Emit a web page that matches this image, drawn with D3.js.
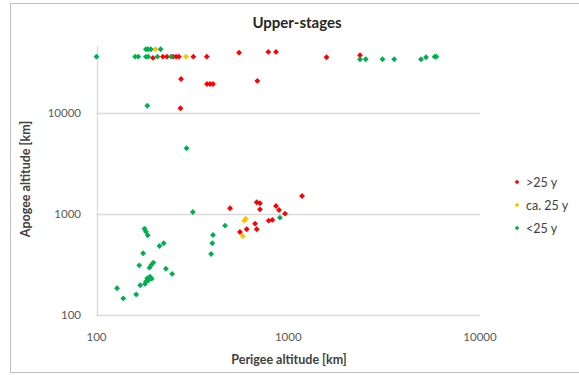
<!DOCTYPE html>
<html>
<head>
<meta charset="utf-8">
<script src="https://cdn.jsdelivr.net/npm/d3@7"></script>
<style>
  body { margin: 0; background: #fff; }
  svg text { font-family: Lato, "Open Sans", sans-serif; }
</style>
</head>
<body>
<svg id="chart" width="579" height="375"></svg>
<script>
// perigee / apogee altitudes in km
var redPerigee = [197, 222, 233, 251, 260, 269, 320, 376, 554, 787, 863, 1583, 2367,
    276, 377, 391, 405, 690, 274,
    497, 685, 712, 712, 863, 895, 962, 1180, 791, 826, 671, 685, 607, 560];
var redApogee = [35060, 36070, 36070, 36070, 36070, 36070, 36070, 36070, 39540, 40180, 40180, 35600, 37240,
    21700, 19370, 19370, 19370, 20750, 11130,
    1138, 1306, 1276, 1112, 1200, 1096, 1007, 1507, 859, 873, 802, 706, 706, 663];

var orangePerigee = [203, 293, 600, 590, 579];
var orangeApogee = [42720, 36070, 898, 859, 606];

var greenPerigee = [100, 159, 165, 181, 186, 208, 245, 181, 186, 192, 216,
    2367, 2535, 3101, 3569, 4924, 5229, 5800, 5920,
    184, 295,
    318, 905, 468, 405, 402, 396, 178, 181, 185, 213, 224, 175, 167, 198, 193, 189,
    230, 248, 184, 190, 194, 181, 186, 179, 169, 128, 138, 161];
var greenApogee = [36070, 36070, 36070, 36070, 36070, 36070, 36070, 42720, 42720, 42720, 42720,
    34030, 34030, 34030, 34030, 34030, 35600, 36070, 36070,
    11800, 4470,
    1047, 919, 766, 620, 513, 402, 715, 668, 615, 482, 513, 408, 310, 330, 313, 294,
    287, 255, 231, 239, 229, 214, 219, 203, 197, 184, 146, 160];

var seriesNames = [">25 y", "ca. 25 y", "<25 y"];
var seriesColors = ["#ff0000", "#ffc000", "#00b050"];
var xTicks = [100, 1000, 10000];
var yTicks = [100, 1000, 10000];

var svg = d3.select("#chart");

var plotLeft = 96.5, plotRight = 480, plotTop = 46, plotBottom = 315;

var x = d3.scaleLog().domain([100, 10000]).range([plotLeft, plotRight]);
var y = d3.scaleLog().domain([100, 46000]).range([plotBottom, plotTop]);

// chart border
svg.append("rect")
    .attr("x", 10.5).attr("y", 3.5)
    .attr("width", 600).attr("height", 369)
    .attr("fill", "none")
    .attr("stroke", "#bfbfbf");

// horizontal gridlines
svg.selectAll(".grid")
    .data(yTicks)
    .enter().append("line")
    .attr("class", "grid")
    .attr("x1", plotLeft).attr("x2", plotRight)
    .attr("y1", d => Math.round(y(d)) + 0.5)
    .attr("y2", d => Math.round(y(d)) + 0.5)
    .attr("stroke", "#d9d9d9")
    .attr("stroke-width", 1.3);

// vertical axis line
svg.append("line")
    .attr("x1", Math.round(plotLeft) + 0.5).attr("x2", Math.round(plotLeft) + 0.5)
    .attr("y1", plotTop).attr("y2", plotBottom)
    .attr("stroke", "#d9d9d9")
    .attr("stroke-width", 1.3);

// tick labels
svg.selectAll(".ylab")
    .data(yTicks)
    .enter().append("text")
    .attr("class", "ylab")
    .attr("x", 81)
    .attr("y", d => y(d) + 4)
    .attr("text-anchor", "end")
    .attr("font-size", 11.5)
    .attr("fill", "#595959")
    .text(d => d);

svg.selectAll(".xlab")
    .data(xTicks)
    .enter().append("text")
    .attr("class", "xlab")
    .attr("x", d => x(d))
    .attr("y", 341)
    .attr("text-anchor", "middle")
    .attr("font-size", 11.5)
    .attr("fill", "#595959")
    .text(d => d);

// titles
svg.append("text")
    .attr("x", 297).attr("y", 28)
    .attr("text-anchor", "middle")
    .attr("font-size", 15)
    .attr("font-weight", "bold")
    .attr("fill", "#262626")
    .text("Upper-stages");

svg.append("text")
    .attr("x", 289).attr("y", 364)
    .attr("text-anchor", "middle")
    .attr("font-size", 12.5)
    .attr("font-weight", "bold")
    .attr("fill", "#404040")
    .text("Perigee altitude [km]");

svg.append("text")
    .attr("transform", "translate(30,179) rotate(-90)")
    .attr("text-anchor", "middle")
    .attr("font-size", 12.5)
    .attr("font-weight", "bold")
    .attr("fill", "#404040")
    .text("Apogee altitude [km]");

// points
var marker = d3.symbol().type(d3.symbolDiamond2).size(22);

var series = [
    { per: redPerigee, apo: redApogee },
    { per: orangePerigee, apo: orangeApogee },
    { per: greenPerigee, apo: greenApogee }
];

series.forEach((s, i) => {
    var pts = s.per.map((p, j) => [p, s.apo[j]]);
    svg.append("g")
        .selectAll("path")
        .data(pts)
        .enter().append("path")
        .attr("d", marker)
        .attr("transform", d => "translate(" + x(d[0]) + "," + y(d[1]) + ")")
        .attr("fill", seriesColors[i]);
});

// legend
var legend = svg.append("g");
legend.selectAll("path")
    .data(seriesNames)
    .enter().append("path")
    .attr("d", d3.symbol().type(d3.symbolDiamond2).size(14))
    .attr("transform", (d, i) => "translate(517," + (182 + i * 23) + ")")
    .attr("fill", (d, i) => seriesColors[i]);

legend.selectAll("text")
    .data(seriesNames)
    .enter().append("text")
    .attr("x", 526)
    .attr("y", (d, i) => 182 + i * 23 + 4.5)
    .attr("font-size", 12.5)
    .attr("fill", "#404040")
    .text(d => d);
</script>
</body>
</html>
